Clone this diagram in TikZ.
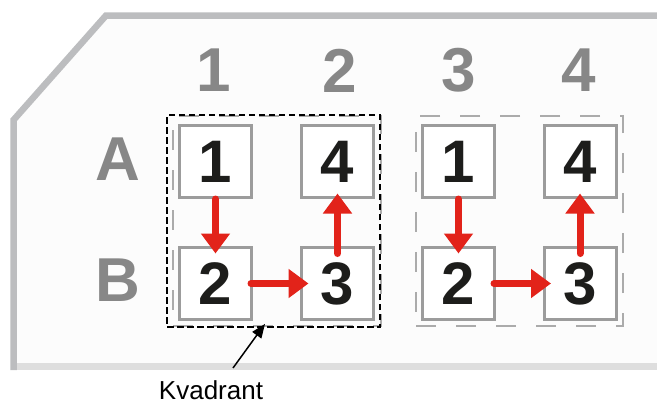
\documentclass[tikz,border=0pt]{standalone}
\usepackage{fontspec}
\setmainfont{Liberation Sans}
\usetikzlibrary{arrows.meta}
\definecolor{panelline}{HTML}{BCBDBF}
\definecolor{panelbase}{HTML}{DEDEDE}
\definecolor{panelfill}{HTML}{FCFCFC}
\definecolor{labelgray}{HTML}{878787}
\definecolor{cellgray}{HTML}{9C9C9C}
\definecolor{digitblack}{HTML}{1D1D1B}
\definecolor{flowred}{HTML}{E2231A}
\definecolor{quadgray}{HTML}{ABABAB}
\tikzset{
  headlabel/.style={text=labelgray,font=\fontsize{62}{62}\selectfont\bfseries,inner sep=0pt},
  cell/.style={draw=cellgray,line width=3pt,fill=white,minimum width=72pt,minimum height=72pt,
    text=digitblack,font=\fontsize{60}{60}\selectfont\bfseries,inner sep=0pt},
  flow/.style={draw=flowred,line width=7pt,line cap=round,
    -{Triangle[width=28pt,length=20pt]},flowred},
  quadblack/.style={draw=black,line width=1.8pt,dash pattern=on 6.5pt off 3.5pt},
  quadlight/.style={draw=quadgray,line width=1.8pt,dash pattern=on 20pt off 20pt},
  pointer/.style={draw=black,line width=1.5pt,-{Triangle[width=11pt,length=14pt]}}
}
\begin{document}
\begin{tikzpicture}[x=1pt,y=-1pt]
\useasboundingbox (0,0) rectangle (657,407);

% panel background and frame
\fill[panelfill] (657,15.5) -- (106,15.5) -- (13.5,120) -- (13.5,366.5) -- (657,366.5) -- cycle;
\draw[panelbase,line width=7pt] (17,366.5) -- (657,366.5);
\draw[panelline,line width=6.5pt,line join=miter] (657,15.5) -- (106,15.5) -- (13.5,120) -- (13.5,370);

% column and row headings
\node[headlabel] (c1) at (213.5,70.5) {1};
\node[headlabel] (c2) at (339.5,70.5) {2};
\node[headlabel] (c3) at (458.5,70.5) {3};
\node[headlabel] (c4) at (579,70.5) {4};
\node[headlabel] (ra) at (117.5,159.5) {A};
\node[headlabel] (rb) at (117.5,280.5) {B};

% quadrant outlines
\node[quadlight,minimum width=208pt,minimum height=210pt,inner sep=0pt] (q1g) at (277,221) {};
\node[quadlight,minimum width=207pt,minimum height=210pt,inner sep=0pt] (q2) at (519.5,221) {};
\node[quadblack,minimum width=213pt,minimum height=212pt,inner sep=0pt] (q1) at (273.5,221) {};

% cells
\node[cell] (a1) at (215.5,161.5) {1};
\node[cell] (a2) at (337.5,161.5) {4};
\node[cell] (b1) at (215.5,283.5) {2};
\node[cell] (b2) at (337.5,283.5) {3};
\node[cell] (a3) at (458.5,161.5) {1};
\node[cell] (a4) at (580,161.5) {4};
\node[cell] (b3) at (458.5,283.5) {2};
\node[cell] (b4) at (580,283.5) {3};

% visiting order
\draw[flow,shorten >=-7.5pt] (a1.south) -- (b1.north);
\draw[flow,shorten <=-2pt,shorten >=-8.5pt] (b1.east) -- (b2.west);
\draw[flow,shorten <=-7.5pt,shorten >=-5.5pt] (b2.north) -- (a2.south);
\draw[flow,shorten >=-7.5pt] (a3.south) -- (b3.north);
\draw[flow,shorten <=-2pt,shorten >=-8.5pt] (b3.east) -- (b4.west);
\draw[flow,shorten <=-7.5pt,shorten >=-5.5pt] (b4.north) -- (a4.south);

% label
\node[anchor=base,inner sep=0pt,font=\fontsize{26}{26}\selectfont] (kv) at (211,399) {Kvadrant};
\coordinate (kvtail) at (233,368);
\draw[pointer] (kvtail) -- ([xshift=-8.5pt,yshift=4pt]q1.south);
\end{tikzpicture}
\end{document}
